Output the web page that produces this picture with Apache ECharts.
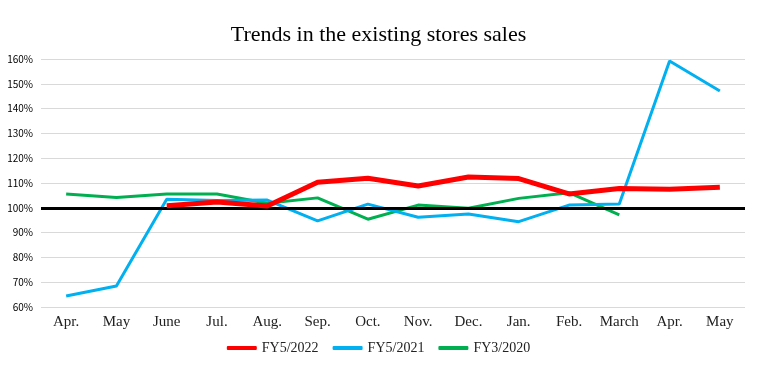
<!DOCTYPE html>
<html><head><meta charset="utf-8">
<script src="https://cdn.jsdelivr.net/npm/echarts@6/dist/echarts.min.js"></script>
<style>html,body{margin:0;padding:0;background:#fff}#c{width:757px;height:366px}</style>
</head><body><div id="c"></div>
<script>
const categories = ['Apr.','May','June','Jul.','Aug.','Sep.','Oct.','Nov.','Dec.','Jan.','Feb.','March','Apr.','May'];
const fy2022 = [null,null,100.8,102.3,100.7,110.3,111.9,108.8,112.4,111.8,105.6,107.8,107.5,108.3];
const fy2021 = [64.4,68.5,103.4,102.9,103.1,94.7,101.5,96.2,97.5,94.4,101.1,101.5,159.2,147.1];
const fy2020 = [105.6,104.2,105.6,105.6,101.8,104.0,95.4,101.1,99.8,103.8,106.1,97.1,null,null];
const yTicks = {min:60, max:160, interval:10};
const baseline = 100;

const chart = echarts.init(document.getElementById('c'));
chart.setOption({
  animation:false,
  title:{text:'Trends in the existing stores sales',left:'center',top:19,
    textStyle:{fontFamily:'Liberation Serif',fontWeight:'normal',fontSize:22,color:'#000'}},
  grid:{left:41,right:12,top:59,bottom:59},
  legend:{bottom:6,left:'center',itemWidth:30,itemHeight:4,itemGap:14,icon:'roundRect',
    textStyle:{fontFamily:'Liberation Serif',fontSize:14,color:'#222'},
    data:['FY5/2022','FY5/2021','FY3/2020']},
  xAxis:{type:'category',data:categories,boundaryGap:true,
    axisLine:{show:false},axisTick:{show:false},
    axisLabel:{interval:0,fontFamily:'Liberation Serif',fontSize:15,color:'#222',margin:8}},
  yAxis:{type:'value',min:yTicks.min,max:yTicks.max,interval:yTicks.interval,
    axisLabel:{formatter:v=>v+'%',fontFamily:'Noto Sans CJK JP',fontSize:10,color:'#000',margin:8},
    splitLine:{lineStyle:{color:'#d9d9d9',width:1}},axisLine:{show:false},axisTick:{show:false}},
  series:[
    {name:'FY5/2022',type:'line',data:fy2022,symbol:'none',color:'#ff0000',
      lineStyle:{width:5,color:'#ff0000'},z:5,
      markLine:{silent:true,symbol:'none',label:{show:false},
        lineStyle:{color:'#000',width:3,type:'solid'},data:[{yAxis:baseline}]}},
    {name:'FY5/2021',type:'line',data:fy2021,symbol:'none',color:'#00b0f0',
      lineStyle:{width:3,color:'#00b0f0'},z:4},
    {name:'FY3/2020',type:'line',data:fy2020,symbol:'none',color:'#00b050',
      lineStyle:{width:3,color:'#00b050'},z:3}
  ]
});
</script></body></html>
